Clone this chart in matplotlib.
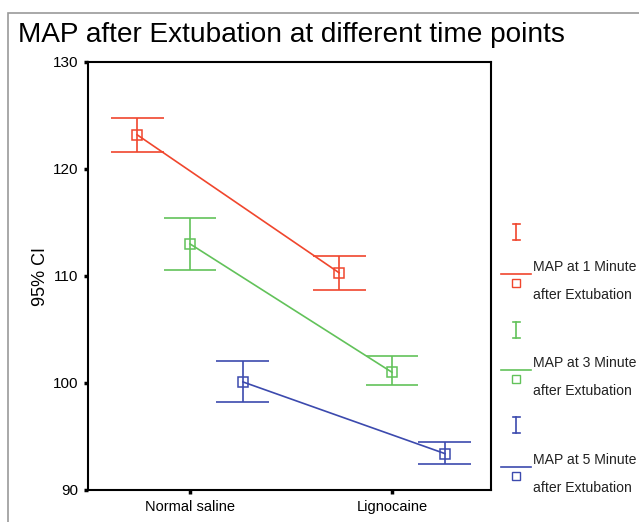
import matplotlib
matplotlib.use("Agg")
import matplotlib.pyplot as plt
from matplotlib.patches import Rectangle
import numpy as np

plt.rcParams['font.family'] = ['Liberation Sans', 'DejaVu Sans']

groups = ["Normal saline", "Lignocaine"]
series = ["MAP at 1 Minute\nafter Extubation",
          "MAP at 3 Minute\nafter Extubation",
          "MAP at 5 Minute\nafter Extubation"]
means = [[123.2, 110.3], [113.0, 101.0], [100.1, 93.4]]
lower = [[121.6, 108.7], [110.6, 99.8], [98.2, 92.4]]
upper = [[124.8, 111.9], [115.4, 102.5], [102.1, 94.5]]
colors = ["#f0462d", "#62c25a", "#3c4aae"]
yticks = [90, 100, 110, 120, 130]

W, H = 639, 522
fig = plt.figure(figsize=(W/100, H/100), dpi=100)

# outer border (gray)
fig.add_artist(Rectangle((8/W, -0.1), 1.2, 1 - 13/H + 0.1, transform=fig.transFigure,
                         fill=False, edgecolor="#9a9a9a", linewidth=1.2))

ax = fig.add_axes([88/W, 1 - 490/H, 403/W, 428/H])
xpos = np.arange(1, len(groups) + 1)
offsets = [-0.262, 0.0, 0.262]
capw = 0.131
for i in range(len(series)):
    x = xpos + offsets[i]
    m = np.array(means[i]); lo = np.array(lower[i]); up = np.array(upper[i])
    ax.plot(x, m, color=colors[i], lw=1.2, zorder=2)
    ax.vlines(x, lo, up, color=colors[i], lw=1.2, zorder=2)
    ax.hlines(lo, x - capw, x + capw, color=colors[i], lw=1.2, zorder=2)
    ax.hlines(up, x - capw, x + capw, color=colors[i], lw=1.2, zorder=2)
    ax.plot(x, m, ls='none', marker='s', ms=6.5, mfc='none', mec=colors[i], mew=1.1, zorder=3)

ax.set_xlim(0.495, 2.49)
ax.set_ylim(90, 130)
ax.set_xticks(xpos)
ax.set_xticklabels(groups, fontsize=10.5)
ax.set_yticks(yticks)
ax.set_yticklabels([str(t) for t in yticks], fontsize=11)
ax.tick_params(direction='out', length=3, width=2.5, pad=4)
for s in ax.spines.values():
    s.set_linewidth(1.5)
ax.set_ylabel("95% CI", fontsize=13, labelpad=3)

fig.text(18/W, 1 - 35/H, "MAP after Extubation at different time points",
         fontsize=20.15, va='center', ha='left')

# legend drawn in pixel coordinates
lax = fig.add_axes([0, 0, 1, 1], zorder=5)
lax.set_xlim(0, W); lax.set_ylim(H, 0); lax.axis('off')
ibar_y = [232, 330, 425]
line_y = [274, 370, 467]
for i in range(len(series)):
    c = colors[i]
    yb = ibar_y[i]
    lax.plot([516, 516], [yb - 8, yb + 8], color=c, lw=1.2)
    lax.plot([512.5, 519.5], [yb - 8, yb - 8], color=c, lw=1.2)
    lax.plot([512.5, 519.5], [yb + 8, yb + 8], color=c, lw=1.2)
    yl = line_y[i]
    lax.plot([501, 531], [yl, yl], color=c, lw=1.2)
    lax.plot([516], [yl + 9], ls='none', marker='s', ms=5.5, mfc='none', mec=c, mew=1.0)
    l1, l2 = series[i].split("\n")
    lax.text(533, yl - 7, l1, fontsize=10.1, va='center', ha='left', color='#222222')
    lax.text(533, yl + 21, l2, fontsize=10.1, va='center', ha='left', color='#222222')

fig.savefig("out.png", dpi=100)
